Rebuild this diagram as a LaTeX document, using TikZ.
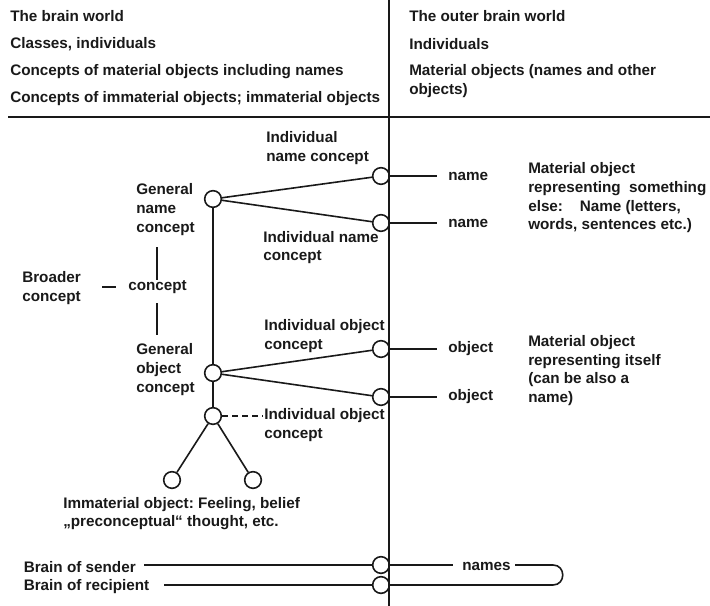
\documentclass[tikz,border=0pt]{standalone}
\usepackage{fontspec}
\setmainfont{Liberation Sans}
\frenchspacing
\begin{document}
\definecolor{ink}{RGB}{25,25,25}
\begin{tikzpicture}[x=0.75pt,y=-0.75pt,
  every node/.style={font=\fontsize{11.45}{14}\selectfont\bfseries, text=ink, inner sep=0pt},
  txt/.style={anchor=west, align=left},
  ln/.style={line width=1.2pt, draw=ink},
  ring/.style={circle, draw=ink, line width=1.2pt, fill=white, minimum size=12.5pt, inner sep=0pt}]
\useasboundingbox (0,0) rectangle (710,606);
% header
\node[txt] (h1) at (10,16) {The brain world};
\node[txt] (h2) at (10,44) {Classes, individuals};
\node[txt] (h3) at (10,72) {Concepts of material objects including names};
\node[txt] (h4) at (10,99) {Concepts of immaterial objects; immaterial objects};
\node[txt] (r1) at (409,16) {The outer brain world};
\node[txt] (r2) at (409,44) {Individuals};
\node[txt] (r3) at (409,81) {Material objects (names and other\\objects)};
\coordinate (hl) at (8,117);
\coordinate (hr) at (710,117);
\draw[ln] (hl) -- (hr);
% circles
\node[ring] (gn) at (213,199) {};
\node[ring] (in1) at (381,176) {};
\node[ring] (in2) at (381,223) {};
\node[ring] (go) at (213,373) {};
\node[ring] (io1) at (381,349) {};
\node[ring] (io2) at (381,397) {};
\node[ring] (ic) at (213,416) {};
\node[ring] (l1) at (172,480) {};
\node[ring] (l2) at (253,480) {};
\node[ring] (bs) at (381,565) {};
\node[ring] (br) at (381,585) {};
% main vertical line
\coordinate (vtop) at (389,0);
\coordinate (vbot) at (389,606);
\draw[ln] (vtop) -- (vbot);
% tree connectors
\draw[ln] (gn) -- (in1);
\draw[ln] (gn) -- (in2);
\draw[ln] (gn) -- (go);
\draw[ln] (go) -- (io1);
\draw[ln] (go) -- (io2);
\draw[ln] (go) -- (ic);
\draw[ln] (ic) -- (l1);
\draw[ln] (ic) -- (l2);
\coordinate (dend) at (263,416);
\draw[ln, dash pattern=on 4.5 off 3] (ic) -- (dend);
% labels
\node[txt] (lin1) at (266,148) {Individual\\name concept};
\node[txt] (lgn) at (136,209.5) {General\\name\\concept};
\node[txt] (lin2) at (263,247.5) {Individual name\\concept};
\node[txt] (lbc) at (22,288) {Broader\\concept};
\node[txt] (cc) at (128,287) {concept};
\coordinate (bd1) at (102,287);
\coordinate (bd2) at (116,287);
\draw[ln] (bd1) -- (bd2);
\coordinate (cv1) at (157,247);
\coordinate (cv2) at (157,280);
\coordinate (cv3) at (157,303);
\coordinate (cv4) at (157,335);
\draw[ln] (cv1) -- (cv2);
\draw[ln] (cv3) -- (cv4);
\node[txt] (lio1) at (264,336) {Individual object\\concept};
\node[txt] (lgo) at (136,369.5) {General\\object\\concept};
\node[txt] (lio2) at (264,425) {Individual object\\concept};
\node[txt] (limm) at (63,513.5) {Immaterial object: Feeling, belief\\„preconceptual“ thought, etc.};
% outer world items
\coordinate (n1e) at (437,176);
\coordinate (n2e) at (437,223);
\coordinate (o1e) at (437,349);
\coordinate (o2e) at (437,397);
\draw[ln] (in1.east) -- (n1e);
\draw[ln] (in2.east) -- (n2e);
\draw[ln] (io1.east) -- (o1e);
\draw[ln] (io2.east) -- (o2e);
\node[txt] (tn1) at (448,176) {name};
\node[txt] (tn2) at (448,223) {name};
\node[txt] (to1) at (448,349) {object};
\node[txt] (to2) at (448,397) {object};
\node[txt] (m1) at (528,198) {Material object\\representing\ \ something\\else:\hspace{1.1em}Name (letters,\\words, sentences etc.)};
\node[txt] (m2) at (528,370.5) {Material object\\representing itself\\(can be also a\\name)};
% bottom
\node[txt] (bsend) at (23.5,567) {Brain of sender};
\node[txt] (brec) at (23.5,587) {Brain of recipient};
\coordinate (sl) at (144,565);
\coordinate (rl) at (164,585);
\draw[ln] (sl) -- (bs);
\draw[ln] (rl) -- (br);
\coordinate (ls1) at (453,565);
\node[txt] (names) at (462,566) {names};
\coordinate (lr1) at (515,565);
\coordinate (lr2) at (553,565);
\coordinate (lr3) at (553,585);
\draw[ln] (bs.east) -- (ls1);
\draw[ln] (lr1) -- (lr2) .. controls (566,565) and (566,585) .. (lr3) -- (br.east);
\end{tikzpicture}
\end{document}
